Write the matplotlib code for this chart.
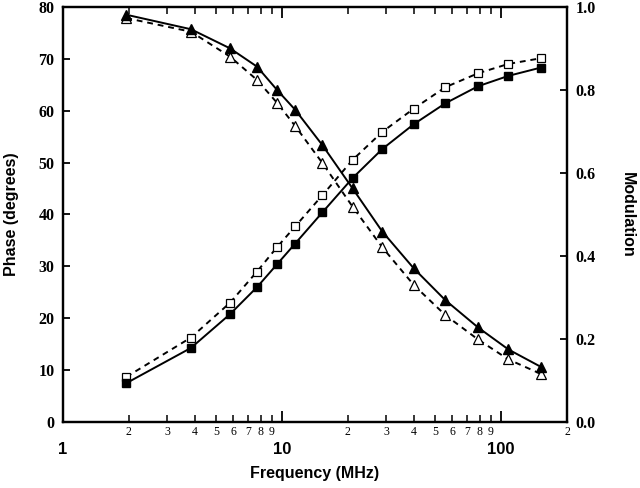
import matplotlib
matplotlib.use("Agg")
import matplotlib.pyplot as plt
from matplotlib.ticker import FixedLocator, FixedFormatter

# data
freq = [1.95, 3.85, 5.8, 7.7, 9.5, 11.5, 15.3, 21.0, 28.7, 40.0, 55.6, 78.5, 108, 152]
phase_filled = [7.5, 14.3, 20.8, 26.0, 30.4, 34.4, 40.4, 47.0, 52.6, 57.4, 61.4, 64.7, 66.7, 68.3]
phase_open = [8.7, 16.3, 23.0, 29.0, 33.7, 37.7, 43.7, 50.5, 55.9, 60.4, 64.5, 67.2, 69.0, 70.1]
mod_filled = [0.981, 0.946, 0.900, 0.856, 0.800, 0.752, 0.667, 0.563, 0.459, 0.370, 0.294, 0.228, 0.175, 0.133]
mod_open = [0.973, 0.940, 0.880, 0.824, 0.769, 0.713, 0.624, 0.519, 0.421, 0.330, 0.258, 0.199, 0.151, 0.116]

major_x = [1, 10, 100]
major_x_labels = ["1", "10", "100"]
minor_x = [2, 3, 4, 5, 6, 7, 8, 9, 20, 30, 40, 50, 60, 70, 80, 90, 200]
minor_x_labels = ["2", "3", "4", "5", "6", "7", "8", "9",
                  "2", "3", "4", "5", "6", "7", "8", "9", "2"]
phase_ticks = [0, 10, 20, 30, 40, 50, 60, 70, 80]
mod_ticks = [0.0, 0.2, 0.4, 0.6, 0.8, 1.0]

fig = plt.figure(figsize=(6.4, 4.88), dpi=100)
ax = fig.add_axes([0.098, 0.135, 0.788, 0.851])
ax2 = ax.twinx()

# phase (squares)
ax.plot(freq, phase_filled, color="black", lw=1.4, ls="-", marker="s", ms=6,
        mfc="black", mec="black", zorder=3)
ax.plot(freq, phase_open, color="black", lw=1.4, ls=(0, (3, 2.5)), marker="s", ms=6,
        mfc="white", mec="black", mew=0.9, zorder=2)

# modulation (triangles)
ax2.plot(freq, mod_filled, color="black", lw=1.4, ls="-", marker="^", ms=6.5,
         mfc="black", mec="black", zorder=3)
ax2.plot(freq, mod_open, color="black", lw=1.4, ls=(0, (3, 2.5)), marker="^", ms=6.5,
         mfc="white", mec="black", mew=0.9, zorder=2)

ax.set_xscale("log")
ax.set_xlim(1, 200)
ax.set_ylim(0, 80)
ax2.set_ylim(0, 1.0)

ax.xaxis.set_major_locator(FixedLocator(major_x))
ax.xaxis.set_major_formatter(FixedFormatter(major_x_labels))
ax.xaxis.set_minor_locator(FixedLocator(minor_x))
ax.xaxis.set_minor_formatter(FixedFormatter(minor_x_labels))

ax.set_yticks(phase_ticks)
ax2.set_yticks(mod_ticks)
ax2.set_yticklabels([f"{v:.1f}" for v in mod_ticks])

ax.tick_params(axis="x", which="major", direction="in", length=8, width=1.3,
               top=True, pad=14, labelsize=12)
ax.tick_params(axis="x", which="minor", direction="in", length=5, width=1.1,
               top=True, pad=3, labelsize=8.5)
ax.tick_params(axis="y", direction="in", length=5, width=1.3, pad=6, labelsize=11.5)
ax2.tick_params(axis="y", direction="in", length=5, width=1.3, pad=6, labelsize=11.5)

for lab in ax.xaxis.get_majorticklabels():
    lab.set_fontfamily("Liberation Sans")
    lab.set_fontweight("bold")
for lab in ax.xaxis.get_minorticklabels():
    lab.set_fontfamily("Liberation Serif")
for lab in ax.get_yticklabels() + ax2.get_yticklabels():
    lab.set_fontfamily("Liberation Serif")
    lab.set_fontweight("bold")

for a in (ax, ax2):
    for s in a.spines.values():
        s.set_linewidth(1.6)

ax.set_xlabel("Frequency (MHz)", fontfamily="Liberation Sans", fontweight="bold",
              fontsize=11.5, labelpad=7)
ax.set_ylabel("Phase (degrees)", fontfamily="Liberation Sans", fontweight="bold",
              fontsize=11.5, labelpad=14)
ax2.set_ylabel("Modulation", fontfamily="Liberation Sans", fontweight="bold",
               fontsize=11.5, rotation=270, labelpad=28)

fig.savefig("out.png", dpi=100)
